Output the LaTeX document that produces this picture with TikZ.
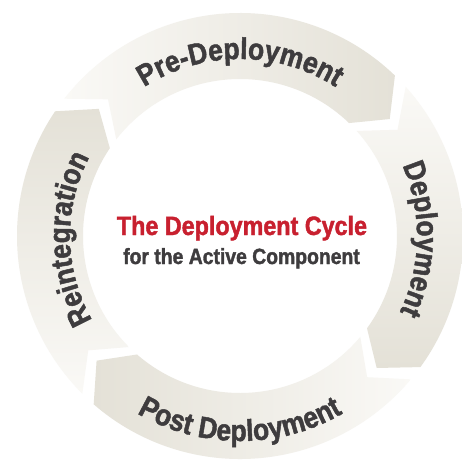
\documentclass[tikz,border=0pt]{standalone}
\usepackage{fontspec}
\newfontfamily\condfont[FakeStretch=0.88,FakeBold=1.6]{Liberation Sans Bold}
\usetikzlibrary{positioning,decorations.text}

\definecolor{labelgray}{HTML}{3E3C3E}
\definecolor{titlered}{HTML}{C8202F}
\definecolor{segdark}{HTML}{E4E1D7}
\definecolor{seglight}{HTML}{FAF9F6}

\newcommand\ringin{157pt}
\newcommand\ringmid{190pt}
\newcommand\ringout{223pt}

\tikzset{
  preshade/.style={left color=seglight, right color=segdark},
  depshade/.style={top color=seglight, bottom color=segdark},
  postshade/.style={left color=segdark, right color=seglight},
  reshade/.style={top color=segdark, bottom color=seglight},
  arclabel/.style={decorate, decoration={text along path, text align=center,
    text color=labelgray, text={|\condfont\fontsize{30}{30}\selectfont|#1}}}
}

\begin{document}
\begin{tikzpicture}
\fill[white] (-240pt,-224pt) rectangle (222pt,236pt);
\useasboundingbox (-240pt,-224pt) rectangle (222pt,236pt);

% four chevron segments of the ring
\foreach \t/\h/\shd in {142/46/preshade, 42/-36/depshade, -40/-131/postshade, -135/-214/reshade}
  \shade[\shd] (\t:\ringout) arc[start angle=\t, end angle=\h, radius=\ringout]
    -- ({\h-8}:\ringmid) -- (\h:\ringin) arc[start angle=\h, end angle=\t, radius=\ringin]
    -- ({\t-8}:\ringmid) -- cycle;

% labels along the ring
\path[arclabel={Pre-Deployment}] (150:177pt) arc[start angle=150, end angle=30, radius=177pt];
\path[arclabel={Deployment}] (50:177pt) arc[start angle=50, end angle=-52, radius=177pt];
\path[arclabel={Post Deployment}] (230:205pt) arc[start angle=230, end angle=310, radius=205pt];
\path[arclabel={Reintegration}] (230:170pt) arc[start angle=230, end angle=132, radius=170pt];

% centre text
\node[anchor=base, text=titlered, font=\condfont\fontsize{26.5}{26.5}\selectfont] (title) at (2pt,1pt) {The Deployment Cycle};
\node[anchor=base, text=labelgray, font=\condfont\fontsize{22}{22}\selectfont] (subtitle) at (1.5pt,-28pt) {for the Active Component};
\end{tikzpicture}
\end{document}
